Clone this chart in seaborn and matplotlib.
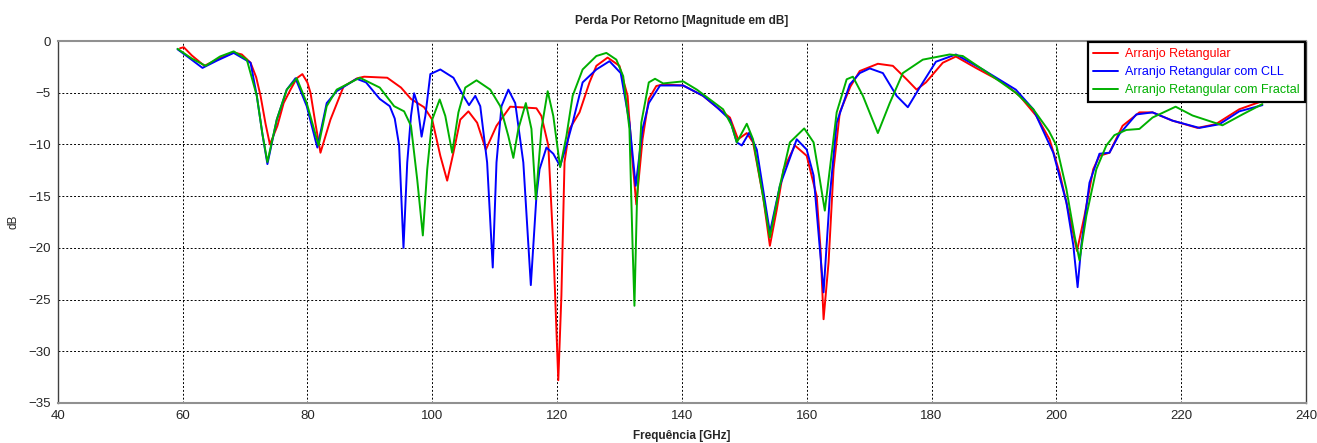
import pandas as pd
import numpy as np
import matplotlib
matplotlib.use('Agg')
import matplotlib.pyplot as plt
import seaborn as sns

sns.set_style('white')
plt.rcParams['font.family'] = ['Liberation Sans', 'DejaVu Sans']

# Arranjo Retangular
freq_ret = [59.6, 60.2, 61.5, 63.5, 65.5, 68.2, 69.5, 70.9, 71.8, 72.5, 73.3, 74.0, 75.2, 76.2, 77.3,
            78.3, 79.2, 80.0, 80.5, 81.3, 82.1, 83.7, 85.8, 88.0, 89.1, 92.8, 95.0, 96.6, 98.7, 100.0,
            101.3, 102.4, 103.4, 104.5, 105.8, 107.2, 108.6, 110.3, 112.5, 116.7, 117.5, 118.6, 119.4,
            120.2, 120.7, 121.2, 122.0, 123.6, 125.2, 126.3, 128.1, 130.0, 131.3, 132.1, 132.7, 133.7,
            134.7, 135.9, 137.0, 140.2, 143.4, 145.6, 147.7, 149.0, 150.4, 151.4, 153.0, 154.1, 155.2,
            156.3, 158.1, 160.0, 161.6, 162.2, 162.7, 163.5, 164.3, 165.3, 167.0, 168.5, 171.4, 173.8,
            176.0, 177.6, 179.1, 181.8, 183.9, 187.1, 191.4, 194.1, 196.8, 198.9, 200.5, 202.1, 203.3,
            204.5, 205.9, 206.9, 208.5, 210.6, 213.3, 215.4, 218.6, 222.6, 225.5, 229.3, 233.0]
db_ret = [-0.7, -0.6, -1.4, -2.4, -1.8, -1.1, -1.3, -2.1, -3.5, -5.3, -8.0, -10.0, -8.2, -6.0, -4.7,
          -3.6, -3.2, -4.0, -5.0, -8.0, -10.8, -7.6, -4.4, -3.6, -3.45, -3.55, -4.5, -5.6, -6.4, -7.6,
          -11.1, -13.5, -10.8, -7.6, -6.8, -7.9, -10.5, -8.2, -6.35, -6.5, -7.25, -10.1, -19.8,
          -32.8, -24.6, -11.7, -8.5, -6.9, -4.0, -2.4, -1.6, -2.4, -5.3, -11.7, -15.8, -9.5,
          -5.6, -4.35, -4.2, -4.3, -5.3, -6.4, -7.4, -9.5, -8.9, -9.8, -15.0, -19.8, -16.3,
          -12.4, -10.1, -11.1, -15.0, -20.0, -26.9, -21.4, -12.4, -6.9, -4.4, -2.9, -2.2, -2.4,
          -3.7, -4.7, -4.0, -2.1, -1.5, -2.6, -4.0, -5.3, -7.25, -9.5, -12.7, -16.9, -20.3,
          -16.9, -12.4, -11.1, -10.8, -8.2, -6.9, -6.9, -7.7, -8.4, -8.05, -6.6, -5.8]

# Arranjo Retangular com CLL
freq_cll = [59.2, 61.0, 63.2, 65.5, 68.2, 70.9, 71.9, 72.8, 73.6, 75.1, 76.7, 78.1, 79.9, 81.6, 83.1,
            84.7, 87.9, 89.4, 91.6, 93.2, 94.0, 94.7, 95.4, 96.0, 96.6, 97.1, 97.6, 98.3, 98.9, 99.7,
            101.3, 103.4, 105.0, 105.9, 106.9, 107.7, 108.8, 109.7, 110.3, 111.1, 112.2, 113.3, 114.6,
            115.8, 116.7, 117.2, 118.3, 119.4, 120.5, 121.5, 122.5, 124.1, 126.3, 128.4, 130.2, 131.6,
            132.6, 133.7, 134.7, 136.5, 140.2, 143.4, 145.6, 147.7, 148.8, 149.6, 150.8, 152.0, 153.0,
            154.1, 155.7, 158.4, 160.0, 161.1, 162.7, 163.7, 164.8, 166.9, 168.5, 170.1, 172.2, 174.4,
            176.2, 178.1, 180.7, 183.9, 188.2, 193.5, 196.3, 199.5, 201.6, 202.7, 203.4, 204.0, 205.3,
            206.9, 208.5, 210.1, 212.8, 215.4, 218.6, 222.9, 226.1, 229.3, 233.0]
db_cll = [-0.8, -1.6, -2.6, -1.9, -1.15, -2.1, -5.3, -9.0, -11.9, -7.6, -4.7, -3.6, -6.3, -10.3, -6.0,
          -4.85, -3.65, -4.0, -5.6, -6.3, -7.5, -10.1, -20.0, -11.75, -7.25, -5.05, -6.0, -9.25, -7.25, -3.2,
          -2.75, -3.55, -5.3, -6.2, -5.3, -6.3, -11.75, -21.9, -11.75, -6.3, -4.7, -6.0, -11.75,
          -23.6, -15.0, -12.4, -10.3, -10.9, -12.1, -10.1, -7.9, -4.0, -2.75, -1.95, -3.1, -7.9,
          -14.0, -8.5, -6.0, -4.3, -4.3, -5.3, -6.4, -7.6, -9.8, -10.1, -8.85, -10.5, -14.3,
          -18.5, -14.0, -9.5, -10.5, -13.0, -24.3, -15.0, -7.9, -4.2, -3.1, -2.65, -3.1, -5.3,
          -6.4, -4.5, -2.0, -1.3, -2.75, -4.7, -6.6, -10.8, -15.6, -19.7, -23.8, -19.7, -13.7,
          -10.9, -10.8, -9.0, -7.1, -6.9, -7.7, -8.4, -8.05, -6.8, -6.2]

# Arranjo Retangular com Fractal
freq_frac = [59.2, 61.5, 63.7, 66.0, 68.2, 70.3, 71.9, 72.8, 73.6, 75.1, 76.7, 78.3, 79.9, 81.8, 83.1,
             84.7, 88.4, 91.6, 93.9, 95.5, 96.6, 97.6, 98.5, 99.2, 100.0, 101.2, 102.1, 103.2, 104.2,
             105.3, 107.1, 109.3, 110.9, 112.2, 113.0, 113.8, 115.0, 115.9, 116.6, 117.5, 118.5, 119.4,
             120.5, 121.5, 122.5, 124.1, 126.3, 127.9, 129.5, 130.6, 131.6, 132.1, 132.4, 132.8, 133.5,
             134.7, 135.7, 137.0, 140.2, 142.4, 144.5, 146.6, 148.0, 148.8, 150.4, 151.4, 152.8, 154.1,
             155.7, 157.3, 159.6, 161.1, 162.1, 162.9, 163.7, 164.8, 166.4, 167.4, 169.0, 171.4, 173.3,
             175.4, 178.6, 182.9, 185.0, 188.2, 193.5, 196.3, 198.8, 200.0, 201.6, 202.9, 203.7, 204.8,
             206.4, 208.0, 209.3, 211.2, 213.3, 215.4, 219.1, 221.8, 226.6, 229.8, 233.0]
db_frac = [-0.75, -1.7, -2.4, -1.5, -1.0, -1.8, -5.3, -9.0, -11.7, -7.6, -4.7, -3.6, -6.0, -10.1, -6.3,
           -4.7, -3.55, -4.5, -6.3, -6.8, -8.2, -13.4, -18.8, -12.4, -7.6, -5.65, -7.25, -10.8, -6.9,
           -4.5, -3.8, -4.7, -6.3, -9.2, -11.3, -8.5, -6.0, -8.5, -15.3, -8.5, -4.85, -7.25,
           -12.2, -9.2, -5.3, -2.75, -1.45, -1.15, -1.8, -3.4, -8.5, -19.8, -25.6, -15.6, -7.9,
           -4.0, -3.65, -4.1, -3.9, -4.7, -5.65, -6.6, -8.2, -9.8, -8.0, -9.5, -14.3, -19.0,
           -14.0, -9.8, -8.45, -9.8, -13.4, -16.4, -12.4, -6.9, -3.7, -3.45, -5.3, -8.9, -6.0,
           -3.1, -1.8, -1.3, -1.45, -2.75, -5.0, -6.6, -8.7, -10.1, -14.3, -18.8, -21.2, -16.9,
           -12.4, -10.1, -9.1, -8.6, -8.5, -7.4, -6.35, -7.2, -8.15, -7.1, -6.1]

labels = ['Arranjo Retangular', 'Arranjo Retangular com CLL', 'Arranjo Retangular com Fractal']
colors = ['#ff0000', '#0000ff', '#00b000']

df = pd.concat([
    pd.DataFrame({'f': freq_ret, 'db': db_ret, 'serie': labels[0]}),
    pd.DataFrame({'f': freq_cll, 'db': db_cll, 'serie': labels[1]}),
    pd.DataFrame({'f': freq_frac, 'db': db_frac, 'serie': labels[2]}),
], ignore_index=True)

fig = plt.figure(figsize=(13.17, 4.43), dpi=100)
ax = fig.add_axes([0.0438, 0.0903, 0.9479, 0.8171])

sns.lineplot(data=df, x='f', y='db', hue='serie', palette=dict(zip(labels, colors)),
             sort=False, estimator=None, linewidth=1.4, ax=ax)

ax.set_xlim(40, 240)
ax.set_ylim(-35, 0)
ax.set_xticks(np.arange(40, 241, 20))
ax.set_yticks(np.arange(-35, 1, 5))
ax.grid(True, color='black', linestyle=(0, (2, 2)), linewidth=0.7)
ax.tick_params(axis='both', direction='out', length=3, width=1, color='#808080',
               labelsize=9.5, pad=2)
for side in ['left', 'right']:
    ax.spines[side].set_color('#404040')
    ax.spines[side].set_linewidth(1.0)
for side in ['top', 'bottom']:
    ax.spines[side].set_color('#909090')
    ax.spines[side].set_linewidth(1.5)

ax.set_title('Perda Por Retorno [Magnitude em dB]', fontsize=8.5, fontweight='bold', pad=12)
ax.set_xlabel('Frequência [GHz]', fontsize=8.5, fontweight='bold', labelpad=6)
ax.set_ylabel('dB', fontsize=8.5, labelpad=6)

leg = ax.legend(loc='upper right', fontsize=9, frameon=True, fancybox=False,
                borderaxespad=0.1, handlelength=2.0, handletextpad=0.5,
                labelspacing=0.5, borderpad=0.45)
leg.get_frame().set_edgecolor('black')
leg.get_frame().set_linewidth(1.6)
leg.get_frame().set_alpha(1)
for txt, c in zip(leg.get_texts(), colors):
    txt.set_color(c)

fig.savefig('out.png', dpi=100)
